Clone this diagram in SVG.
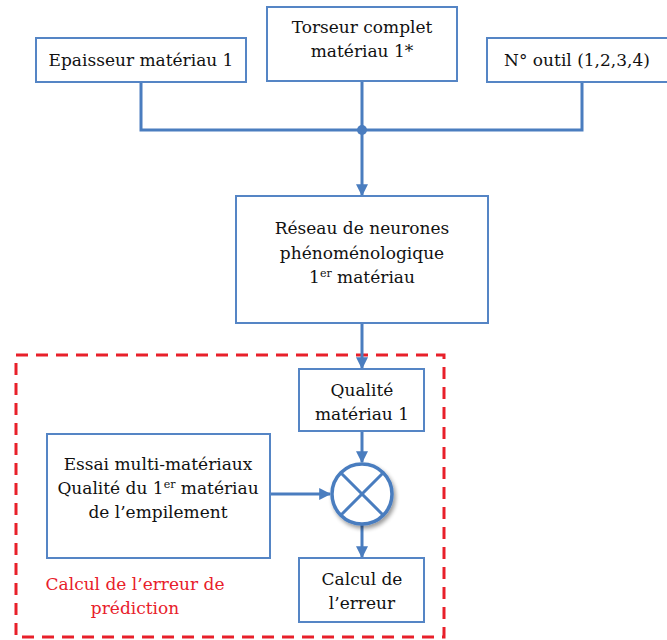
<svg xmlns="http://www.w3.org/2000/svg" width="667" height="640" viewBox="0 0 667 640">
<defs>
<style>
.box{fill:#fff;stroke:#5585C5;stroke-width:2}
.t{font-family:"DejaVu Serif","Liberation Serif",serif;font-size:17px;fill:#111;text-anchor:middle}
.sup{font-size:11px}
.red{fill:#E8202A}
.ln{fill:none;stroke:#4A7DBF;stroke-width:3}
</style>
<marker id="ah" viewBox="0 0 10 10" refX="9" refY="5" markerWidth="4" markerHeight="4" orient="auto" markerUnits="strokeWidth">
<path d="M0,0 L10,5 L0,10 z" fill="#4A7DBF"/>
</marker>
<filter id="sh" x="-30%" y="-30%" width="160%" height="160%">
<feGaussianBlur in="SourceAlpha" stdDeviation="2"/>
<feOffset dx="2" dy="3"/>
<feComponentTransfer><feFuncA type="linear" slope="0.4"/></feComponentTransfer>
<feMerge><feMergeNode/><feMergeNode in="SourceGraphic"/></feMerge>
</filter>
</defs>
<rect width="667" height="640" fill="#fff"/>

<rect x="16" y="355" width="428" height="282" fill="none" stroke="#E8202A" stroke-width="3" stroke-dasharray="12 8"/>

<g id="connectors">
<path class="ln" d="M141,82 V130 H582 V82"/>
<path class="ln" d="M362,81 V130"/>
<circle cx="362" cy="130" r="5" fill="#4A7DBF"/>
<path class="ln" d="M362,130 V195" marker-end="url(#ah)"/>
<path class="ln" d="M362,323 V368" marker-end="url(#ah)"/>
<path class="ln" d="M362,431 V462" marker-end="url(#ah)"/>
<path class="ln" d="M270,494 H330" marker-end="url(#ah)"/>
<path class="ln" d="M362,525 V557" marker-end="url(#ah)"/>
</g>

<g id="epaisseur">
<rect class="box" x="36" y="38" width="210" height="44"/>
<text class="t" x="141" y="66">Epaisseur matériau 1</text>
</g>
<g id="torseur">
<rect class="box" x="267" y="7" width="190" height="74"/>
<text class="t" x="362" y="33">Torseur complet</text>
<text class="t" x="362" y="57">matériau 1*</text>
</g>
<g id="outil">
<rect class="box" x="487" y="38" width="182" height="44"/>
<text class="t" x="577" y="66">N° outil (1,2,3,4)</text>
</g>
<g id="reseau">
<rect class="box" x="236" y="196" width="252" height="127"/>
<text class="t" x="362" y="234">Réseau de neurones</text>
<text class="t" x="362" y="259">phénoménologique</text>
<text class="t" x="362" y="283">1<tspan class="sup" dy="-6">er</tspan><tspan dy="6"> matériau</tspan></text>
</g>
<g id="qualite">
<rect class="box" x="299" y="369" width="125" height="62"/>
<text class="t" x="362" y="396">Qualité</text>
<text class="t" x="362" y="420">matériau 1</text>
</g>
<g id="essai">
<rect class="box" x="47" y="434" width="223" height="124"/>
<text class="t" x="158" y="470">Essai multi-matériaux</text>
<text class="t" x="158" y="494">Qualité du 1<tspan class="sup" dy="-6">er</tspan><tspan dy="6"> matériau</tspan></text>
<text class="t" x="158" y="518">de l’empilement</text>
</g>
<g id="multiplier" filter="url(#sh)">
<circle cx="362" cy="494" r="30" fill="#fff" stroke="#4A7DBF" stroke-width="3.5"/>
<path d="M341,473 L383,515 M383,473 L341,515" stroke="#4A7DBF" stroke-width="3"/>
</g>
<g id="calcul">
<rect class="box" x="299" y="558" width="125" height="64"/>
<text class="t" x="362" y="585">Calcul de</text>
<text class="t" x="362" y="609">l’erreur</text>
</g>
<g id="label">
<text class="t red" x="135" y="590">Calcul de l’erreur de</text>
<text class="t red" x="135" y="614">prédiction</text>
</g>
</svg>
